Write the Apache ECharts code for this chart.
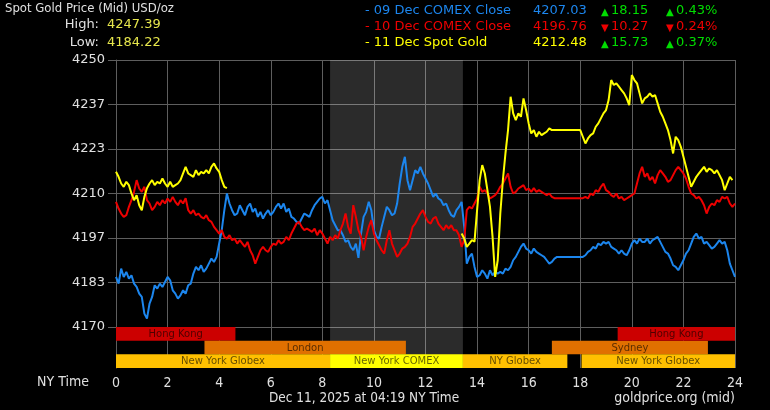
<!DOCTYPE html>
<html><head><meta charset="utf-8">
<script src="https://cdn.jsdelivr.net/npm/echarts@6/dist/echarts.min.js"></script>
<style>html,body{margin:0;padding:0;background:#000;}#c{width:770px;height:410px;}</style>
</head><body><div id="c"></div>
<script>
// ---- data ----
const sampleStepHours = 0.1;
const yTickMin = 4170, yTickMax = 4250;
const hourTicks = [0,2,4,6,8,10,12,14,16,18,20,22,24];

// 09 Dec COMEX Close (blue), 0..24h every 0.1h
const blueVals = [
4185,4183,4187.5,4185,4186.5,4184.5,4185.5,4183,4182,4180,
4179,4174,4172.5,4177,4179,4182.5,4181.5,4183,4182,4183.5,
4185,4184,4181,4180,4178.5,4179.5,4181,4180,4182.5,4183,
4186,4188,4187,4188.5,4186.5,4187.5,4189,4190.5,4189.5,4191,
4195,4199,4205,4210,4207,4205,4203.5,4204,4206.5,4205,
4203.5,4206,4207,4204.5,4205.5,4203,4204.5,4202.5,4204,4205,
4203.5,4204.5,4206,4207,4205.5,4207,4204.5,4205.5,4203,4202.5,
4201.5,4201,4202.5,4204,4203.5,4203,4205,4206.5,4207.5,4208.5,
4209,4207,4208,4205,4202,4200.5,4199,4199,4197.5,4195.5,
4196,4194,4193,4195,4190.7,4198,4203,4204.5,4207.5,4205,
4199,4197,4196.5,4200,4203,4206,4205,4203.5,4204,4207,
4213,4218,4221,4214,4211,4214,4217,4216,4218,4216,
4214.5,4213,4211,4209,4210,4208.5,4208,4206.5,4207,4205,
4203.5,4203,4205,4206,4207.5,4200,4189,4191,4192,4188,
4185,4185.5,4187,4186,4184.5,4187,4185.5,4186.5,4186,4186.5,
4186,4187.5,4187,4188,4190,4191,4192.5,4194,4195,4193.5,
4193,4192,4193.5,4192.5,4192,4191.5,4191,4190,4189,4189.5,
4190.5,4191,4191,4191,4191,4191,4191,4191,4191,4191,
4191,4191,4191.5,4192.5,4193,4194,4193.5,4195,4194.5,4195.5,
4195,4195.5,4194,4193.5,4193,4192,4193,4192,4191.5,4193,
4195,4196,4195,4196.5,4195.5,4195.5,4196.5,4195,4196,4196.5,
4197,4195.5,4194,4192.5,4192,4190.5,4188.5,4188,4187,4188.5,
4190,4192,4193,4195,4197,4198,4196.5,4197,4195,4195.5,
4194.5,4193.5,4194,4195,4196,4195,4195.5,4193,4189,4187,
4185];

// 10 Dec COMEX Close (red), 0..24h every 0.1h
const redVals = [
4207.5,4205.5,4204,4203,4203.5,4206,4208,4210.5,4214,4211.5,
4210.5,4212,4208,4207,4205,4206,4207.5,4206.5,4208,4207,
4208.5,4207.5,4209,4207.5,4206.5,4208,4207,4208.6,4205,4204,
4205,4203.5,4204,4203,4202.5,4203.5,4202,4201.5,4200,4199,
4198,4199,4197,4196.5,4197.5,4196,4196.5,4195,4196,4195,
4194,4195.5,4193,4191.5,4189,4191,4193,4194,4193,4192.5,
4194,4195,4194.6,4196,4195,4195.5,4197,4196,4198,4199.5,
4201,4201.5,4200,4199,4199.5,4199,4198.5,4199.5,4197.5,4199,
4198,4196.5,4195,4197,4196,4197.5,4196.5,4199,4201,4204,
4200,4198,4206.5,4203,4199,4197,4193,4197,4200,4202,
4198,4196,4194.5,4193,4192,4196,4199,4195,4193,4191,
4192,4193.5,4194,4195,4197,4200,4201,4202.5,4204,4205,
4203,4201.5,4201,4202.5,4203,4201,4200,4199,4200.5,4199.5,
4200.5,4199,4199,4197.5,4194,4196,4205,4206,4205.5,4207,
4208.5,4212,4210.5,4211,4210,4208.5,4209,4209.5,4210.5,4212,
4213,4214.5,4216,4212,4210,4210.5,4211.5,4212,4212.5,4211,
4211.5,4210.5,4211.6,4210.5,4211,4210.5,4210,4209.5,4210,4209,
4208.6,4208.6,4208.6,4208.6,4208.6,4208.6,4208.6,4208.6,4208.6,4208.6,
4208.6,4208.6,4209,4208.5,4210,4209.5,4211,4210.5,4212,4213,
4211,4210.5,4209.5,4209,4210,4208.5,4209,4208,4208.5,4209,
4209.5,4210,4213,4216,4218,4215,4216,4214,4215,4213,
4215.5,4217,4216,4215,4213.5,4214,4215.5,4217,4218,4217,
4216,4214.5,4212,4210,4209.5,4208.5,4209,4208,4206.5,4204,
4206,4207,4206.5,4208,4207.5,4209,4208.5,4209,4207,4206,
4207];

// 11 Dec Spot Gold (yellow): morning part from 0h, late part from 13.4h
const yellowMorningStart = 0;
const yellowMorningVals = [
4216.5,4215,4213,4212,4213.5,4212.5,4210,4208,4209.5,4206.5,
4205,4209,4211.6,4213,4214,4212.5,4213.5,4213,4214.5,4213,
4212,4213.5,4212,4212.5,4213,4214,4216,4218,4216,4215.5,
4215,4217,4215.5,4216.5,4216,4217,4216,4218,4219,4217.5,
4216.5,4214,4212,4211.6];
const yellowLateStart = 13.4;
const yellowLateVals = [
4198,4196.5,4194,4195,4196,4195.6,4205,4214,4218.5,4216,
4211,4206,4197,4185,4190,4204,4214,4222,4229,4239,
4234,4232,4234,4233,4238.5,4235,4231,4228,4229,4227,
4228.5,4227.5,4228,4228.5,4229.5,4229,4229,4229,4229,4229,
4229,4229,4229,4229,4229,4229,4229,4227,4225,4226.5,
4227.5,4228,4230,4231,4232.5,4234,4235,4238,4244,4242.5,
4243,4242,4241,4240,4238.5,4236.5,4245.5,4244,4243,4240,
4237,4238.5,4239,4240,4239,4239.5,4237,4234.5,4233,4231,
4229,4226,4222,4227,4226,4224,4221,4218,4215,4212,
4213.5,4215,4216,4217,4218,4216.5,4217.5,4217,4216,4217,
4215.5,4214,4211,4213,4215,4214];

// trading sessions
const sessionNames = ['Hong Kong','London','New York Globex','New York COMEX','NY Globex','Sydney','Hong Kong','New York Globex'];
const sessionStart = [0, 3.43, 0, 8.3, 13.45, 16.9, 19.45, 18.05];
const sessionEnd   = [4.63, 11.24, 8.3, 13.45, 17.5, 22.95, 24, 24];
const sessionRow   = [0, 1, 2, 2, 2, 1, 0, 2];
const comexShade = [8.3, 13.45];

// legend/header texts
const legendNames = ['- 09 Dec COMEX Close','- 10 Dec COMEX Close','- 11 Dec Spot Gold'];
const legendPrices = ['4207.03','4196.76','4212.48'];
const legendChange = ['18.15','10.27','15.73'];
const legendPct = ['0.43%','0.24%','0.37%'];
const legendUp = [true,false,true];
const highLow = ['4247.39','4184.22'];

// ---- build ----
function toPairs(vals, start){ return vals.map((v,i)=>[Math.round((start + i*sampleStepHours)*100)/100, v]); }
const bluePairs = toPairs(blueVals, 0);
const redPairs = toPairs(redVals, 0);
const yellowPairs = toPairs(yellowMorningVals, yellowMorningStart)
  .concat([[ (yellowMorningStart + yellowMorningVals.length*sampleStepHours + yellowLateStart)/2, null]])
  .concat(toPairs(yellowLateVals, yellowLateStart));

const sessionColors = {'Hong Kong':'#cc0000','London':'#e07000','Sydney':'#e07000','New York Globex':'#ffc000','NY Globex':'#ffc000','New York COMEX':'#ffff00'};
const sessionData = sessionNames.map((n,i)=>[sessionStart[i], sessionEnd[i], sessionRow[i], n]);

const GRID = '#5e5e5e';
const TXT = '#e0e0e0';
const FONT = 'DejaVu Sans, Verdana, sans-serif';
const COND = '"DejaVu Sans Condensed", "Liberation Sans Narrow", sans-serif';
const COLORS = ['#1c86ee','#ee0000','#ffff00'];

const graphics = [
  {type:'text', left: 5, top: 2, style:{text:'Spot Gold Price (Mid) USD/oz', fill:TXT, font:'13px '+COND}},
  {type:'text', style:{text:'High:', x:99, y:25, fill:TXT, font:'13px '+FONT, align:'right', verticalAlign:'middle'}},
  {type:'text', style:{text:highLow[0], x:107, y:25, fill:'#e6e64c', font:'13px '+FONT, verticalAlign:'middle'}},
  {type:'text', style:{text:'Low:', x:99, y:43, fill:TXT, font:'13px '+FONT, align:'right', verticalAlign:'middle'}},
  {type:'text', style:{text:highLow[1], x:107, y:43, fill:'#e6e64c', font:'13px '+FONT, verticalAlign:'middle'}},
  {type:'text', style:{text:'NY Time', x:89, y:382, fill:TXT, font:'14px '+COND, align:'right', verticalAlign:'middle'}},
  {type:'text', style:{text:'Dec 11, 2025 at 04:19 NY Time', x:364, y:398, fill:TXT, font:'13.5px '+COND, align:'center', verticalAlign:'middle'}},
  {type:'text', style:{text:'goldprice.org (mid)', x:735, y:398, fill:TXT, font:'14px '+COND, align:'right', verticalAlign:'middle'}}
];
const rowY = [11, 27, 43];
legendNames.forEach((n,i)=>{
  const c = COLORS[i];
  const ch = legendUp[i] ? '#00dd00' : '#ee0000';
  const tri = legendUp[i] ? '▲' : '▼';
  graphics.push({type:'text', style:{text:n, x:365, y:rowY[i], fill:c, font:'13px '+FONT, verticalAlign:'middle'}});
  graphics.push({type:'text', style:{text:legendPrices[i], x:533, y:rowY[i], fill:c, font:'13px '+FONT, verticalAlign:'middle'}});
  graphics.push({type:'text', style:{text:tri, x:601, y:rowY[i]+1, fill:ch, font:'10px '+FONT, verticalAlign:'middle'}});
  graphics.push({type:'text', style:{text:legendChange[i], x:611, y:rowY[i], fill:ch, font:'13px '+FONT, verticalAlign:'middle'}});
  graphics.push({type:'text', style:{text:tri, x:666, y:rowY[i]+1, fill:ch, font:'10px '+FONT, verticalAlign:'middle'}});
  graphics.push({type:'text', style:{text:legendPct[i], x:676, y:rowY[i], fill:ch, font:'13px '+FONT, verticalAlign:'middle'}});
});

const chart = echarts.init(document.getElementById('c'), null, {renderer:'canvas'});
const lineCommon = {type:'line', xAxisIndex:0, yAxisIndex:0, showSymbol:false, symbol:'none', lineStyle:{width:2}, animation:false, z:3};
chart.setOption({
  backgroundColor:'#000',
  animation:false,
  graphic: graphics,
  grid:[
    {left:116, right:35, top:60, height:267, containLabel:false},
    {left:116, right:35, top:327, height:41, containLabel:false}
  ],
  xAxis:[
    {type:'value', gridIndex:0, min:0, max:24, interval:2,
     axisLine:{show:false}, axisTick:{show:false}, axisLabel:{show:false},
     splitLine:{show:true, lineStyle:{color:GRID, width:1}}},
    {type:'value', gridIndex:1, min:0, max:24, interval:2,
     axisLine:{show:false}, axisTick:{show:true, length:3, lineStyle:{color:GRID}},
     axisLabel:{show:true, color:TXT, fontSize:14, fontFamily:COND, margin:8, formatter:v=>hourTicks.includes(v)?String(v):''},
     splitLine:{show:true, lineStyle:{color:GRID, width:1}}}
  ],
  yAxis:[
    {type:'value', gridIndex:0, min:yTickMin, max:yTickMax, interval:(yTickMax-yTickMin)/6,
     axisLine:{show:true, lineStyle:{color:GRID}},
     axisTick:{show:true, length:8, lineStyle:{color:GRID}},
     axisLabel:{color:TXT, fontSize:13, fontFamily:FONT, margin:11, formatter:v=>String(Math.round(v))},
     splitLine:{show:true, lineStyle:{color:GRID, width:1}}},
    {type:'value', gridIndex:1, min:0, max:3, inverse:true,
     axisLine:{show:true, lineStyle:{color:GRID}}, axisTick:{show:false}, axisLabel:{show:false}, splitLine:{show:false}}
  ],
  series:[
    Object.assign({}, lineCommon, {name:'09 Dec COMEX Close', data:bluePairs, color:COLORS[0], lineStyle:{width:2, color:COLORS[0]},
      markArea:{silent:true, itemStyle:{color:'rgba(255,255,255,0.17)'}, data:[[{xAxis:comexShade[0]},{xAxis:comexShade[1]}]]}}),
    Object.assign({}, lineCommon, {name:'10 Dec COMEX Close', data:redPairs, color:COLORS[1], lineStyle:{width:2, color:COLORS[1]}}),
    Object.assign({}, lineCommon, {name:'11 Dec Spot Gold', data:yellowPairs, color:COLORS[2], lineStyle:{width:2, color:COLORS[2]}, connectNulls:false}),
    {type:'custom', xAxisIndex:1, yAxisIndex:1, z:1, silent:true,
     data:[[comexShade[0], comexShade[1]]],
     renderItem:(params, api)=>{
       const p0 = api.coord([api.value(0), 0]);
       const p1 = api.coord([api.value(1), 3]);
       return {type:'rect', shape:{x:p0[0], y:p0[1], width:p1[0]-p0[0], height:p1[1]-p0[1]}, style:{fill:'rgba(255,255,255,0.17)'}};
     }},
    {type:'custom', xAxisIndex:1, yAxisIndex:1, z:2, silent:true,
     data:sessionData,
     renderItem:(params, api)=>{
       const d = sessionData[params.dataIndex];
       const p0 = api.coord([d[0], d[2]]);
       const p1 = api.coord([d[1], d[2]+1]);
       return {type:'group', children:[
         {type:'rect', shape:{x:p0[0], y:p0[1], width:p1[0]-p0[0], height:p1[1]-p0[1]}, style:{fill:sessionColors[d[3]]}},
         {type:'text', style:{text:d[3], x:(p0[0]+p1[0])/2, y:(p0[1]+p1[1])/2+0.5, align:'center', verticalAlign:'middle', fill:'rgba(0,0,0,0.62)', font:'10px '+FONT}}
       ]};
     }}
  ]
});
</script></body></html>
